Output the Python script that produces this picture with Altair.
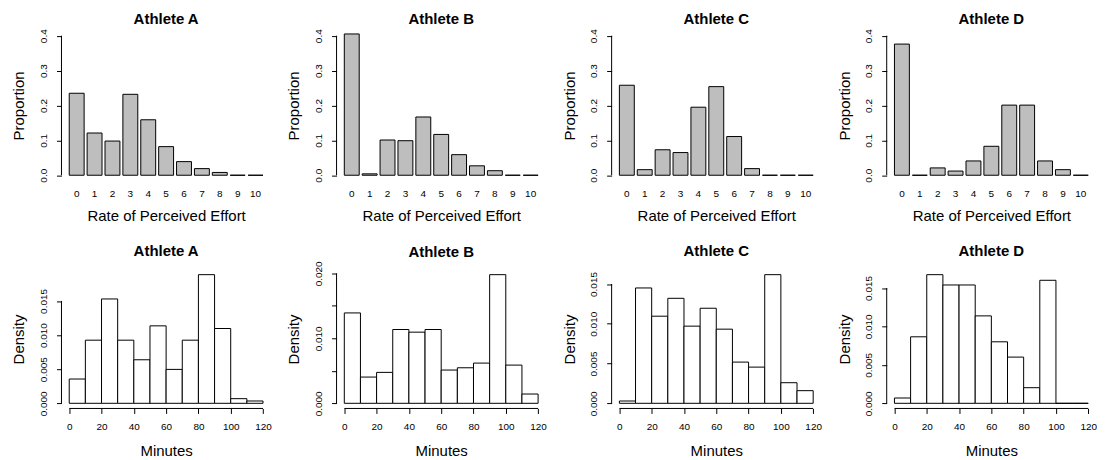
import altair as alt
import pandas as pd

FONT = "Liberation Sans"

athletes = ["Athlete A", "Athlete B", "Athlete C", "Athlete D"]

# Rate of Perceived Effort levels and proportions (top row)
rpe_levels = [0, 1, 2, 3, 4, 5, 6, 7, 8, 9, 10]
prop_A = [0.235, 0.121, 0.098, 0.232, 0.159, 0.082, 0.039, 0.019, 0.008, 0.0, 0.0]
prop_B = [0.405, 0.004, 0.101, 0.099, 0.167, 0.117, 0.059, 0.027, 0.013, 0.0, 0.0]
prop_C = [0.258, 0.016, 0.073, 0.065, 0.195, 0.254, 0.111, 0.019, 0.0, 0.0, 0.0]
prop_D = [0.376, 0.0, 0.021, 0.012, 0.041, 0.083, 0.201, 0.201, 0.041, 0.016, 0.0]
prop_ticks = [0.0, 0.1, 0.2, 0.3, 0.4]

# Minutes histogram (bottom row)
bin_edges = [0, 10, 20, 30, 40, 50, 60, 70, 80, 90, 100, 110, 120]
dens_A = [0.00356, 0.00925, 0.01529, 0.00925, 0.00638, 0.01135, 0.00497, 0.00925, 0.01885, 0.01096, 0.00068, 0.00034]
dens_B = [0.01391, 0.00404, 0.00476, 0.01136, 0.01095, 0.01136, 0.00512, 0.00547, 0.00619, 0.01980, 0.00588, 0.00143]
dens_C = [0.00029, 0.01450, 0.01095, 0.01320, 0.00970, 0.01195, 0.00932, 0.00518, 0.00455, 0.01617, 0.00259, 0.00159]
dens_D = [0.00069, 0.00865, 0.01673, 0.01539, 0.01539, 0.01137, 0.00800, 0.00601, 0.00203, 0.01600, 0.0, 0.0]
minute_ticks = [0, 20, 40, 60, 80, 100, 120]
dens_ticks_A = [0.0, 0.005, 0.010, 0.015]
dens_ticks_B = [0.0, 0.005, 0.010, 0.015, 0.020]
dens_ticks_C = [0.0, 0.005, 0.010, 0.015]
dens_ticks_D = [0.0, 0.005, 0.010, 0.015]

W = 210
H_TOP = 151.2
H_BOT = 139.4
LBL = 10


def title(name, off):
    return alt.TitleParams(text=name, font=FONT, fontSize=15, fontWeight="bold", color="#000000",
                           frame="group", anchor="middle", baseline="alphabetic", offset=off)


def label_overhang(top_tick, dom_top, dom_bot, h, text):
    # how far the rotated top tick label sticks out above the plot (titles sit above it)
    dist = (dom_top - top_tick) / (dom_top - dom_bot) * h
    half = len(text) * 0.52 * LBL / 2
    return max(0.0, half - dist)


def y_axis(title_text, ticks, expr, h):
    return alt.Axis(title=title_text, values=ticks, labelExpr=expr, domain=False,
                    tickSize=5, tickColor="#000000", tickWidth=1, labelAngle=270,
                    labelAlign="center", labelBaseline="middle", labelPadding=13.2,
                    labelFontSize=LBL, labelFont=FONT, labelColor="#000000", labelFlush=False,
                    labelOverlap=False, titleFont=FONT, titleFontSize=15, titleFontWeight="normal",
                    titleColor="#000000", titleAngle=270, titleAlign="center",
                    titleBaseline="alphabetic", titleX=-37.7, titleY=h / 2, grid=False)


def top_panel(name, props):
    cats = [str(v) for v in rpe_levels]
    df = pd.DataFrame({"rpe": cats, "prop": props, "base": [0.0] * len(cats)})
    xs = alt.Scale(domain=cats, paddingInner=0.2 / 1.2, paddingOuter=0.52 / 1.2)
    ys = alt.Scale(domain=[-0.016, 0.416], nice=False, zero=False)
    yax = y_axis("Proportion", prop_ticks, "format(datum.value, '.1f')", H_TOP)
    bars = alt.Chart(df).mark_bar(fill="#BEBEBE", stroke="#000000", strokeWidth=1).encode(
        x=alt.X("rpe:N", scale=xs, sort=None,
                axis=alt.Axis(title="Rate of Perceived Effort", domain=False, ticks=False, tickSize=0,
                              labelAngle=0, labelPadding=12.7, labelBaseline="middle", labelFontSize=LBL,
                              labelFont=FONT, labelColor="#000000", labelOverlap=False,
                              titleFont=FONT, titleFontSize=15,
                              titleFontWeight="normal", titleColor="#000000", titleBaseline="alphabetic",
                              titleX=W / 2, titleY=39.9, grid=False)),
        y=alt.Y("prop:Q", scale=ys, axis=yax),
        y2="base:Q",
    )
    axis_line = alt.Chart(pd.DataFrame({"prop": [prop_ticks[-1]], "base": [prop_ticks[0]]})).mark_rule(
        color="#000000", strokeWidth=1).encode(x=alt.value(0), y=alt.Y("prop:Q", scale=ys, axis=yax), y2="base:Q")
    return alt.layer(bars, axis_line).properties(width=W, height=H_TOP, title=title(name, -10.2))


def bottom_panel(name, dens, yticks):
    m = max(dens)
    lo, hi = -0.04 * m, 1.04 * m
    df = pd.DataFrame({"start": bin_edges[:-1], "end": bin_edges[1:], "dens": dens,
                       "base": [0.0] * len(dens)})
    xs = alt.Scale(domain=[-0.04 * 120, 1.04 * 120], nice=False, zero=False)
    ys = alt.Scale(domain=[lo, hi], nice=False, zero=False)
    label_expr = ("(round(datum.value * 1000) % 10 == 5) ? '' : format(datum.value, '.3f')"
                  if len(yticks) > 4 else "format(datum.value, '.3f')")
    yax = y_axis("Density", yticks, label_expr, H_BOT)
    xax = alt.Axis(title="Minutes", values=minute_ticks, labelExpr="format(datum.value, 'd')",
                   domain=False, tickSize=5,
                   tickColor="#000000", tickWidth=1, labelPadding=12.8, labelBaseline="middle",
                   labelFontSize=LBL, labelFont=FONT, labelColor="#000000", labelFlush=False,
                   labelOverlap=False, titleFont=FONT, titleFontSize=15, titleFontWeight="normal",
                   titleColor="#000000", titleBaseline="alphabetic", titleX=W / 2, titleY=46.8,
                   grid=False)
    rects = alt.Chart(df).mark_rect(fill="#FFFFFF", stroke="#000000", strokeWidth=1).encode(
        x=alt.X("start:Q", scale=xs, axis=xax),
        x2="end:Q",
        y=alt.Y("dens:Q", scale=ys, axis=yax),
        y2="base:Q",
    )
    y_line = alt.Chart(pd.DataFrame({"dens": [yticks[-1]], "base": [yticks[0]]})).mark_rule(
        color="#000000", strokeWidth=1).encode(x=alt.value(0), y=alt.Y("dens:Q", scale=ys, axis=yax), y2="base:Q")
    x_line = alt.Chart(pd.DataFrame({"start": [minute_ticks[0]], "end": [minute_ticks[-1]]})).mark_rule(
        color="#000000", strokeWidth=1).encode(x=alt.X("start:Q", scale=xs, axis=xax), x2="end:Q",
                                               y=alt.value(H_BOT))
    ext = label_overhang(yticks[-1], hi, lo, H_BOT, "%.3f" % yticks[-1])
    return alt.layer(rects, y_line, x_line).properties(width=W, height=H_BOT, title=title(name, -1.8 - ext))


panels = [
    top_panel(athletes[0], prop_A), top_panel(athletes[1], prop_B),
    top_panel(athletes[2], prop_C), top_panel(athletes[3], prop_D),
    bottom_panel(athletes[0], dens_A, dens_ticks_A), bottom_panel(athletes[1], dens_B, dens_ticks_B),
    bottom_panel(athletes[2], dens_C, dens_ticks_C), bottom_panel(athletes[3], dens_D, dens_ticks_D),
]

chart = alt.concat(*panels, columns=4, spacing=alt.RowColnumber(row=88.2, column=66), bounds="flush").properties(
    padding={"left": 3.65, "top": 2.45, "right": 0, "bottom": 0}
).configure_view(strokeWidth=0, stroke="transparent").configure_axis(
    labelOverlap=False, labelFlush=False
)

chart.save("out.html", embed_options={"renderer": "svg", "actions": False})
